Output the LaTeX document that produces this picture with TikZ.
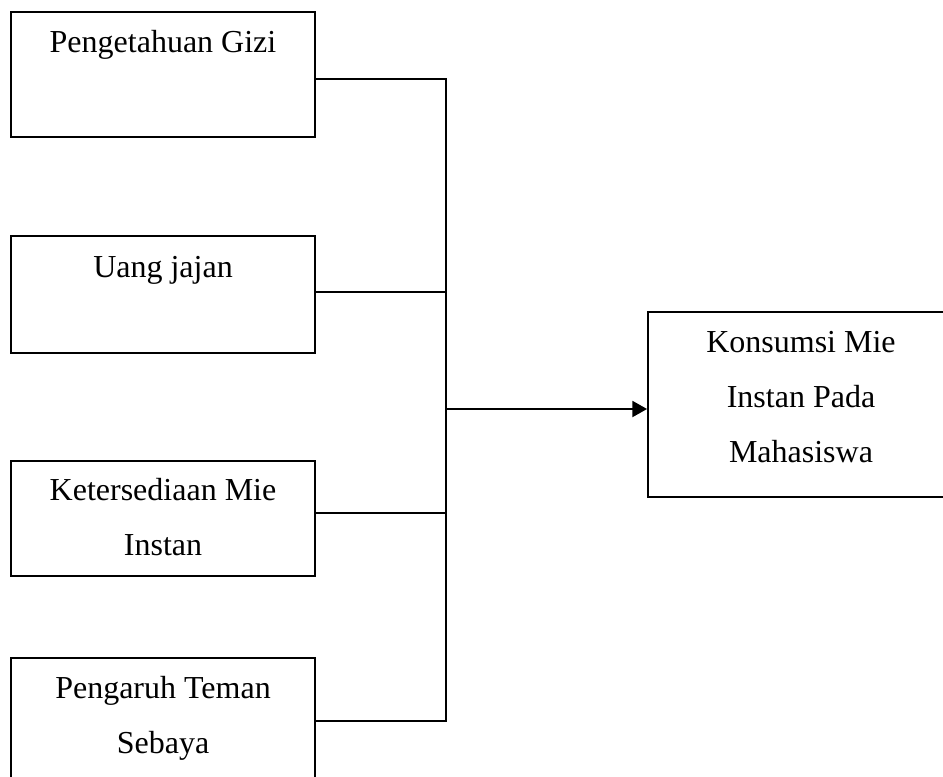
\documentclass[tikz,border=0pt]{standalone}
\usepackage{fontspec}
\setmainfont{Liberation Serif}
\usetikzlibrary{arrows.meta}
\begin{document}
\begin{tikzpicture}[x=0.75pt,y=-0.75pt,
  box/.style={draw=black,line width=1.4pt,rectangle,inner sep=0pt},
  txt/.style={anchor=base,inner sep=0pt,font=\fontsize{24pt}{28pt}\selectfont},
  conn/.style={draw=black,line width=1.4pt},
  arr/.style={conn,-{Triangle[length=11pt,width=12pt]}}]
\useasboundingbox (0,0) rectangle (943,776);
% left boxes
\node[box,minimum width=228.5pt,minimum height=93.75pt] (b1) at (163,74.5) {};
\node[box,minimum width=228.5pt,minimum height=87.75pt] (b2) at (163,294.5) {};
\node[box,minimum width=228.5pt,minimum height=86.25pt] (b3) at (163,518.5) {};
\node[box,minimum width=228.5pt,minimum height=99pt] (b4) at (163,724) {};
% right box
\node[box,minimum width=229.5pt,minimum height=138.75pt] (b5) at (801,404.5) {};
% texts
\node[txt] (t1) at (163,52) {Pengetahuan Gizi};
\node[txt] (t2) at (163,277) {Uang jajan};
\node[txt] (t3a) at (163,500) {Ketersediaan Mie};
\node[txt] (t3b) at (163,555) {Instan};
\node[txt] (t4a) at (163,698) {Pengaruh Teman};
\node[txt] (t4b) at (163,753) {Sebaya};
\node[txt] (t5a) at (801,352) {Konsumsi Mie};
\node[txt] (t5b) at (801,407) {Instan Pada};
\node[txt] (t5c) at (801,462) {Mahasiswa};
% junction points
\coordinate (j1) at (446,79);
\coordinate (j2) at (446,292);
\coordinate (j3) at (446,513);
\coordinate (j4) at (446,721);
\coordinate (ja) at (446,409);
\path[conn] (b1.east |- j1) -- (j1) -- (j4) -- (b4.east |- j4);
\path[conn] (b2.east |- j2) -- (j2);
\path[conn] (b3.east |- j3) -- (j3);
\path[arr] (ja) -- (b5.west |- ja);
\end{tikzpicture}
\end{document}
